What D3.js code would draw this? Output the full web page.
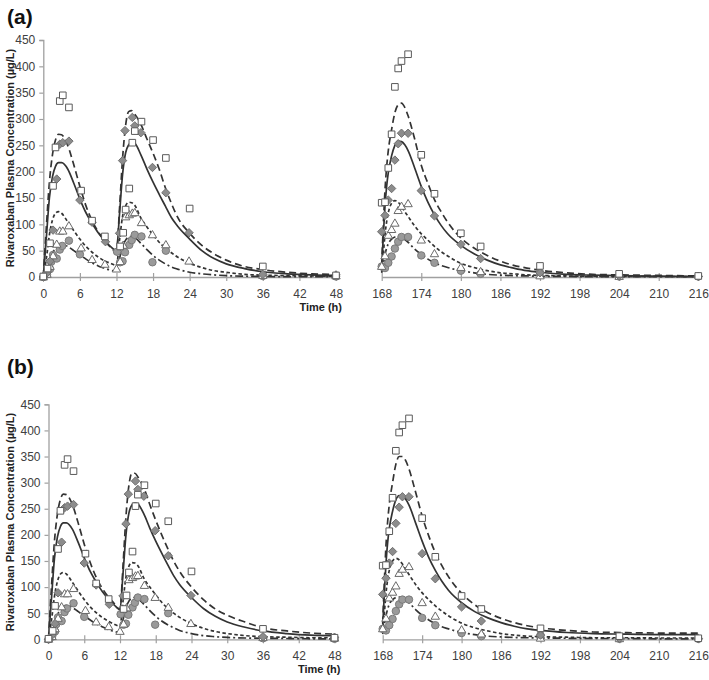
<!DOCTYPE html>
<html><head><meta charset="utf-8">
<script src="https://cdn.jsdelivr.net/npm/d3@7"></script>
<style>body{margin:0;background:#fff}svg{display:block}text{font-family:"Liberation Sans",Arial,sans-serif}</style>
</head><body><svg id="c" width="709" height="680"></svg>
<script>
// ---------------- DATA ----------------
const yTicks = [0, 50, 100, 150, 200, 250, 300, 350, 400, 450];
const xTicksDay1 = [0, 6, 12, 18, 24, 30, 36, 42, 48];
const xTicksSS = [168, 174, 180, 186, 192, 198, 204, 210, 216];
const panelLabels = ["(a)", "(b)"];
const yTitle = "Rivaroxaban  Plasma  Concentration (\u00b5g/L)";
const xTitle = "Time (h)";

// observed data, first day (time h, concentration µg/L)
const squaresDay1 = [[0,1],[0.7,16],[1.1,64],[1.6,173],[2.0,246],[2.7,334],[3.2,345],[4.2,322],[6.2,164],[8.0,107],[10.1,77],[12.6,58],[13.1,84],[13.5,128],[14.1,168],[14.6,255],[15.0,277],[16.1,295],[18.0,260],[20.1,226],[24.0,130],[36.0,20],[48.0,3]];
const diamondsDay1 = [[0,0],[0.6,8],[1.1,30],[1.6,89],[2.2,186],[2.7,252],[3.2,255],[4.2,258],[6.0,146],[8.0,104],[10.2,67],[12.5,83],[13.0,221],[13.4,278],[14.6,303],[15.0,287],[16.0,274],[17.9,208],[20.1,160],[23.9,84],[36.0,5],[48.0,4]];
const trianglesDay1 = [[0,0],[0.6,5],[1.1,20],[1.6,40],[2.2,62],[2.7,87],[3.2,87],[4.2,97],[6.2,55],[8.0,33],[10.1,24],[12.0,15],[12.6,29],[13.1,60],[13.5,114],[14.1,118],[14.6,121],[15.0,122],[16.1,103],[17.9,80],[20.1,61],[23.9,30],[36.0,3],[48.0,2]];
const circlesDay1 = [[0,0],[0.6,5],[1.1,15],[1.3,29],[1.6,42],[2.2,35],[2.7,52],[3.1,59],[4.2,69],[6.0,43],[12.1,48],[12.6,28],[13.0,30],[13.4,47],[14.1,61],[14.5,70],[15.0,80],[16.1,77],[17.9,28],[20.1,50],[36.0,2],[48.0,1]];

// observed data, steady state
const squaresSS = [[168,141],[168.5,142],[169,207],[169.5,271],[170,361],[170.5,396],[171,410],[172,423],[174,232],[176,158],[180,83],[183,58],[192,21],[204,6],[216,2]];
const diamondsSS = [[168,86],[168.5,117],[169,146],[169.5,168],[170,222],[170.5,253],[171,273],[172,273],[174,164],[176,116],[180,62],[183,35],[192,8],[204,2],[216,1]];
const trianglesSS = [[168,20],[168.5,40],[169,79],[169.5,90],[170,102],[170.5,126],[171,134],[172,139],[174,70],[176,44],[180,18],[183,10],[192,2],[204,1]];
const circlesSS = [[168,20],[168.5,17],[169,27],[169.5,39],[170,54],[170.5,67],[171,76],[172,76],[174,41],[176,27],[180,12],[183,6],[192,8],[204,1],[216,1]];

// model prediction times
const predTimesDay1 = [0,0.5,1,1.5,2,2.5,3,4,5,6,7,8,9,10,11,12,12.5,13,13.5,14,14.5,15,16,17,18,19,20,21,22,24,26,28,30,33,36,40,44,48];
const predTimesSS = [168,168.25,168.5,168.75,169,169.5,170,170.5,171,171.5,172,173,174,175,176,177,178,180,182,184,186,188,190,192,196,200,204,210,216];

// panel (a) predictions
const aUpperDay1 = [0,95,180,232,260,271,270,250,213,172,135,107,86,70,57,47,130,225,288,314,316,309,290,262,235,205,170,140,114,83,60,44,32,20,14,9,6,5];
const aMedianDay1 = [0,75,150,190,210,217,217,205,178,148,122,102,84,70,58,50,120,195,236,251,256,254,232,205,180,157,135,113,97,72,50,35,25,16,10,6,4,3];
const aShortDay1 = [0,35,80,108,121,124,121,105,88,72,58,47,38,31,26,22,70,115,135,142,141,136,112,95,80,66,55,46,38,26,18,12,9,5,3.5,2.5,2,1.5];
const aLowDay1 = [0,12,30,45,55,60,62,58,50,42,34,27,21,17,13,11,35,58,70,76,77,75,64,52,41,32,25,19,15,9,6,4,2.5,1.5,1,0.7,0.5,0.5];
const aUpperSS = [22,100,165,209,240,280,312,327,330,322,306,262,212,178,147,124,104,74,55,41,30,22,17,13,8,5,4,3,2];
const aMedianSS = [20,80,135,172,198,230,250,258,257,251,240,207,172,142,118,98,82,60,44,32,23,17,12,9,5,3.5,2.5,1.5,1];
const aShortSS = [10,45,80,105,122,140,145,142,134,124,115,97,82,70,58,48,40,26,18,12,8,6,4,3,2,1.5,1,1,0.5];
const aLowSS = [8,25,42,55,63,72,76,77,75,71,66,53,43,34,27,22,18,12,8,5,3.5,2.5,2,1.5,1,0.7,0.5,0.5,0.5];

// panel (b) predictions
const bUpperDay1 = [0,100,188,240,268,278,277,258,222,182,147,119,98,82,69,57,140,235,295,318,318,311,290,258,228,200,174,150,130,100,76,58,46,33,22,16,12,10];
const bMedianDay1 = [0,78,155,196,216,223,223,211,185,156,130,110,92,78,66,57,125,200,242,257,261,259,240,213,188,165,143,122,105,80,59,44,33,23,16,11,8,7];
const bShortDay1 = [0,36,82,111,125,128,125,109,92,76,62,51,42,35,29,25,72,119,140,147,146,141,117,100,85,71,59,50,42,30,21,15,11,7,5,4,3,3];
const bLowDay1 = [0,13,32,47,57,63,65,61,53,45,37,30,24,19,15,13,37,60,73,79,80,78,67,55,44,35,28,22,17,11,7,5,3.5,2.5,2,1.5,1,1];
const bUpperSS = [30,110,180,225,258,300,335,350,350,342,326,282,236,198,166,141,120,88,66,51,40,32,26,22,17,14,13,12,12];
const bMedianSS = [25,88,145,185,212,245,267,275,274,268,257,223,188,157,132,111,94,70,53,41,32,25,20,17,13,11,10,9,9];
const bShortSS = [12,50,88,114,132,150,155,152,144,134,124,105,89,76,64,54,45,31,22,16,11,8,6,5,4,3,3,2.5,2.5];
const bLowSS = [10,28,45,58,67,76,80,81,79,75,70,57,46,37,30,24,20,13,9,6,4.5,3.5,3,2.5,2,1.5,1.5,1,1];

// ---------------- LAYOUT / STYLE ----------------
const panels = [
  {label: panelLabels[0], labelY: 24, y0: 277, y450: 40, xl0: 43.3, xl48: 336, xr0: 381.7, xr48: 698.3, yTitleY: 158,
   lines: [aUpperDay1, aMedianDay1, aShortDay1, aLowDay1], linesSS: [aUpperSS, aMedianSS, aShortSS, aLowSS]},
  {label: panelLabels[1], labelY: 374, y0: 639.3, y450: 404.3, xl0: 48.5, xl48: 334.5, xr0: 382.7, xr48: 698.3, yTitleY: 522,
   lines: [bUpperDay1, bMedianDay1, bShortDay1, bLowDay1], linesSS: [bUpperSS, bMedianSS, bShortSS, bLowSS]}
];
const lineStyles = [
  {dash: "7,4"}, {dash: null}, {dash: "3.5,2.5"}, {dash: "8,3,2,3"}
];
const axisColor = "#a0a0a0", textColor = "#404040", lineColor = "#333";

const svg = d3.select("#c");

function sqPath(s){ return `M${-s},${-s}h${2*s}v${2*s}h${-2*s}Z`; }
function diaPath(s){ return `M0,${-s}L${s},0L0,${s}L${-s},0Z`; }
function triPath(s){ const h = s*1.73; return `M0,${-h*0.6}L${s},${h*0.4}L${-s},${h*0.4}Z`; }

function drawPanel(p){
  const g = svg.append("g");
  const y = d3.scaleLinear().domain([0,450]).range([p.y0, p.y450]);
  const xl = d3.scaleLinear().domain([0,48]).range([p.xl0, p.xl48]);
  const xr = d3.scaleLinear().domain([168,216]).range([p.xr0, p.xr48]);

  // panel label
  g.append("text").attr("x", 7).attr("y", p.labelY).attr("font-size", 21).attr("font-weight", "bold")
    .attr("fill", "#111").text(p.label);
  // y title
  g.append("text").attr("transform", `translate(14,${p.yTitleY}) rotate(-90)`).attr("text-anchor","middle")
    .attr("font-size", 11).attr("font-weight","bold").attr("fill","#222").text(yTitle);

  // y axis (left panel)
  const yAx = g.append("g").attr("transform", `translate(${p.xl0},0)`)
    .call(d3.axisLeft(y).tickValues(yTicks).tickSize(4).tickPadding(4));
  // x axes
  const xAxL = g.append("g").attr("transform", `translate(0,${p.y0})`)
    .call(d3.axisBottom(xl).tickValues(xTicksDay1).tickSizeInner(4).tickSizeOuter(0).tickPadding(8));
  const xAxR = g.append("g").attr("transform", `translate(0,${p.y0})`)
    .call(d3.axisBottom(xr).tickValues(xTicksSS).tickSizeInner(4).tickSizeOuter(0).tickPadding(8));
  [yAx, xAxL, xAxR].forEach(a => {
    a.select(".domain").attr("stroke", axisColor).attr("stroke-width", 1.3);
    a.selectAll(".tick line").attr("stroke", axisColor).attr("stroke-width", 1.2);
    a.selectAll(".tick text").attr("fill", textColor).attr("font-size", 12)
      .attr("font-family", '"Liberation Sans", Arial, sans-serif');
  });
  [xAxL, xAxR].forEach(a => a.selectAll(".tick line").attr("y1", -4));

  // x title
  g.append("text").attr("x", p.xl48 + 6).attr("y", p.y0 + 34).attr("text-anchor","end")
    .attr("font-size", 11).attr("font-weight","bold").attr("fill","#222").text(xTitle);

  // model lines
  const lineL = d3.line().x(d => xl(d[0])).y(d => y(d[1])).curve(d3.curveMonotoneX);
  const lineR = d3.line().x(d => xr(d[0])).y(d => y(d[1])).curve(d3.curveMonotoneX);
  p.lines.forEach((vals, i) => {
    const pts = predTimesDay1.map((t, j) => [t, vals[j]]);
    g.append("path").attr("d", lineL(pts)).attr("fill","none").attr("stroke", lineColor)
      .attr("stroke-width", 1.7).attr("stroke-dasharray", lineStyles[i].dash);
  });
  p.linesSS.forEach((vals, i) => {
    const pts = predTimesSS.map((t, j) => [t, vals[j]]);
    g.append("path").attr("d", lineR(pts)).attr("fill","none").attr("stroke", lineColor)
      .attr("stroke-width", 1.7).attr("stroke-dasharray", lineStyles[i].dash);
  });

  // markers
  function markers(data, xs, shape, fill, stroke){
    g.append("g").selectAll("path").data(data).join("path")
      .attr("transform", d => `translate(${xs(d[0])},${y(d[1])})`)
      .attr("d", shape).attr("fill", fill).attr("stroke", stroke).attr("stroke-width", 1);
  }
  const series = [
    [circlesDay1, circlesSS, d3.symbol(d3.symbolCircle, 44)(), "#9a9a9a", "#7a7a7a"],
    [trianglesDay1, trianglesSS, triPath(4.2), "#fff", "#6a6a6a"],
    [diamondsDay1, diamondsSS, diaPath(4.2), "#8c8c8c", "#707070"],
    [squaresDay1, squaresSS, sqPath(3.3), "#fff", "#5a5a5a"]
  ];
  series.forEach(s => {
    markers(s[0], xl, s[2], s[3], s[4]);
    markers(s[1], xr, s[2], s[3], s[4]);
  });
}
panels.forEach(drawPanel);
</script></body></html>
